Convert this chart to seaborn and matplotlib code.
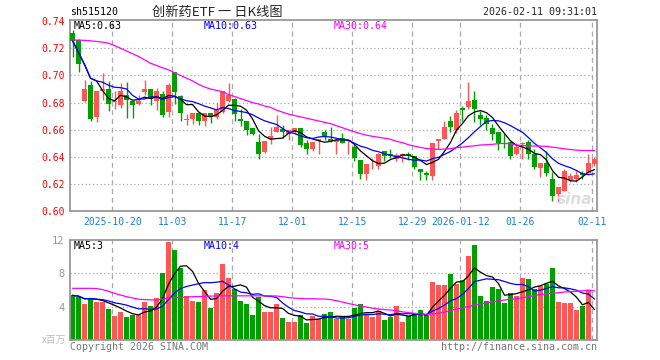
import numpy as np
import pandas as pd
import seaborn as sns
import matplotlib.pyplot as plt

# daily bars 2025-10-09 .. 2026-02-11
opens = [0.7315, 0.7261, 0.6810, 0.6932, 0.6695, 0.6883, 0.6902, 0.6805, 0.6785, 0.6859,
         0.6815, 0.6793, 0.6878, 0.6902, 0.6810, 0.6866, 0.6729, 0.7024, 0.6851, 0.6671,
         0.6676, 0.6720, 0.6663, 0.6720, 0.6693, 0.6729, 0.6810, 0.6829, 0.6676, 0.6663,
         0.6615, 0.6512, 0.6437, 0.6529, 0.6583, 0.6607, 0.6566, 0.6585, 0.6610, 0.6500,
         0.6461, 0.6517, 0.6583, 0.6529, 0.6512, 0.6537, 0.6517, 0.6473, 0.6376, 0.6273,
         0.6317, 0.6334, 0.6444, 0.6424, 0.6383, 0.6410, 0.6422, 0.6407, 0.6310, 0.6285,
         0.6261, 0.6517, 0.6534, 0.6663, 0.6595, 0.6758, 0.6768, 0.6822, 0.6712, 0.6688,
         0.6615, 0.6585, 0.6482, 0.6510, 0.6424, 0.6493, 0.6512, 0.6420, 0.6317, 0.6354,
         0.6241, 0.6127, 0.6151, 0.6229, 0.6237, 0.6285, 0.6280, 0.6346]
highs = [0.7334, 0.7265, 0.6968, 0.6961, 0.6883, 0.7017, 0.6956, 0.6883, 0.6941, 0.6949,
         0.6815, 0.6859, 0.6968, 0.6902, 0.6907, 0.6883, 0.6944, 0.7024, 0.6856, 0.6717,
         0.6725, 0.6729, 0.6724, 0.6724, 0.6798, 0.6885, 0.6944, 0.6834, 0.6754, 0.6663,
         0.6615, 0.6566, 0.6520, 0.6620, 0.6712, 0.6632, 0.6600, 0.6610, 0.6610, 0.6524,
         0.6510, 0.6532, 0.6602, 0.6620, 0.6527, 0.6578, 0.6527, 0.6493, 0.6378, 0.6349,
         0.6395, 0.6427, 0.6444, 0.6456, 0.6432, 0.6432, 0.6437, 0.6410, 0.6315, 0.6298,
         0.6505, 0.6529, 0.6663, 0.6700, 0.6749, 0.6778, 0.6949, 0.6883, 0.6737, 0.6712,
         0.6639, 0.6585, 0.6578, 0.6510, 0.6505, 0.6510, 0.6524, 0.6456, 0.6359, 0.6444,
         0.6290, 0.6176, 0.6310, 0.6285, 0.6298, 0.6298, 0.6420, 0.6402]
lows = [0.7132, 0.7022, 0.6805, 0.6663, 0.6656, 0.6822, 0.6737, 0.6754, 0.6759, 0.6688,
        0.6688, 0.6785, 0.6859, 0.6780, 0.6749, 0.6695, 0.6695, 0.6793, 0.6668, 0.6632,
        0.6644, 0.6632, 0.6627, 0.6651, 0.6676, 0.6724, 0.6805, 0.6668, 0.6627, 0.6559,
        0.6559, 0.6383, 0.6427, 0.6493, 0.6583, 0.6541, 0.6524, 0.6566, 0.6476, 0.6420,
        0.6444, 0.6420, 0.6524, 0.6510, 0.6420, 0.6500, 0.6420, 0.6371, 0.6241, 0.6232,
        0.6315, 0.6315, 0.6371, 0.6395, 0.6371, 0.6363, 0.6376, 0.6310, 0.6232, 0.6232,
        0.6232, 0.6456, 0.6534, 0.6585, 0.6578, 0.6663, 0.6754, 0.6656, 0.6632, 0.6602,
        0.6524, 0.6451, 0.6468, 0.6388, 0.6412, 0.6383, 0.6383, 0.6315, 0.6256, 0.6261,
        0.6078, 0.6066, 0.6151, 0.6212, 0.6212, 0.6237, 0.6280, 0.6334]
closes = [0.7256, 0.7083, 0.6902, 0.6676, 0.6883, 0.6902, 0.6793, 0.6810, 0.6883, 0.6822,
          0.6780, 0.6815, 0.6902, 0.6829, 0.6888, 0.6712, 0.6932, 0.6878, 0.6720, 0.6680,
          0.6720, 0.6663, 0.6724, 0.6695, 0.6744, 0.6883, 0.6859, 0.6717, 0.6666, 0.6595,
          0.6566, 0.6420, 0.6517, 0.6554, 0.6620, 0.6583, 0.6595, 0.6610, 0.6488, 0.6461,
          0.6510, 0.6529, 0.6554, 0.6517, 0.6524, 0.6505, 0.6524, 0.6395, 0.6273, 0.6346,
          0.6322, 0.6424, 0.6407, 0.6407, 0.6415, 0.6420, 0.6417, 0.6327, 0.6290, 0.6266,
          0.6500, 0.6529, 0.6620, 0.6620, 0.6720, 0.6744, 0.6815, 0.6754, 0.6676, 0.6639,
          0.6566, 0.6505, 0.6478, 0.6407, 0.6473, 0.6505, 0.6420, 0.6327, 0.6359, 0.6280,
          0.6110, 0.6176, 0.6298, 0.6261, 0.6266, 0.6266, 0.6354, 0.6388]
# volume in millions
volumes = [5.36, 5.16, 4.32, 5.04, 4.60, 4.60, 3.72, 2.88, 3.40, 2.76,
           3.04, 3.00, 4.56, 4.08, 5.04, 8.04, 11.76, 10.80, 8.64, 5.28,
           4.72, 4.56, 6.00, 3.88, 5.68, 9.12, 7.44, 6.12, 4.72, 4.32,
           3.00, 5.20, 3.40, 3.40, 4.32, 2.64, 2.20, 2.20, 2.96, 2.04,
           2.88, 2.48, 3.08, 3.36, 2.48, 2.72, 2.48, 3.88, 4.32, 3.00,
           2.72, 3.52, 2.40, 2.80, 4.08, 2.16, 2.88, 3.20, 3.60, 3.00,
           6.96, 6.60, 6.60, 7.92, 6.72, 7.20, 10.08, 11.40, 5.28, 4.68,
           6.36, 6.12, 4.44, 5.64, 5.28, 7.44, 7.32, 6.08, 6.48, 6.72,
           8.64, 4.56, 4.44, 4.44, 3.60, 4.08, 6.00, 0.12]
ma30 = [0.7261, 0.7260, 0.7258, 0.7255, 0.7250, 0.7245, 0.7237, 0.7220, 0.7200, 0.7180,
        0.7160, 0.7140, 0.7115, 0.7090, 0.7073, 0.7057, 0.7041, 0.7020, 0.7000, 0.6980,
        0.6960, 0.6935, 0.6915, 0.6900, 0.6890, 0.6880, 0.6860, 0.6845, 0.6830, 0.6815,
        0.6800, 0.6790, 0.6775, 0.6765, 0.6745, 0.6730, 0.6715, 0.6705, 0.6695, 0.6685,
        0.6675, 0.6665, 0.6655, 0.6645, 0.6630, 0.6615, 0.6600, 0.6585, 0.6572, 0.6560,
        0.6552, 0.6545, 0.6538, 0.6530, 0.6515, 0.6505, 0.6490, 0.6480, 0.6470, 0.6462,
        0.6458, 0.6456, 0.6458, 0.6462, 0.6468, 0.6472, 0.6478, 0.6482, 0.6488, 0.6490,
        0.6493, 0.6498, 0.6500, 0.6495, 0.6488, 0.6484, 0.6482, 0.6480, 0.6480, 0.6478,
        0.6472, 0.6466, 0.6460, 0.6455, 0.6450, 0.6448, 0.6447, 0.6447]
vol_ma30 = [6.20, 6.20, 6.20, 6.20, 6.18, 6.05, 5.85, 5.60, 5.40, 5.20,
            5.05, 4.90, 4.85, 4.82, 4.80, 4.90, 5.05, 5.10, 5.12, 5.15,
            5.20, 5.22, 5.25, 5.27, 5.28, 5.30, 5.30, 5.30, 5.30, 5.30,
            5.30, 5.30, 5.30, 5.30, 5.28, 5.20, 5.10, 5.02, 4.98, 4.95,
            4.95, 4.93, 4.92, 4.85, 4.72, 4.55, 4.38, 4.22, 4.08, 3.95,
            3.82, 3.72, 3.65, 3.60, 3.50, 3.38, 3.28, 3.20, 3.12, 3.10,
            3.12, 3.20, 3.35, 3.55, 3.72, 3.88, 4.02, 4.18, 4.32, 4.45,
            4.60, 4.70, 4.80, 4.88, 4.95, 5.08, 5.20, 5.32, 5.45, 5.52,
            5.60, 5.68, 5.76, 5.80, 5.85, 5.90, 6.00, 5.88]

tick_idx = [7, 17, 27, 37, 47, 57, 65, 75, 87]
tick_labels = ['2025-10-20', '11-03', '11-17', '12-01', '12-15', '12-29',
               '2026-01-12', '01-26', '02-11']
price_ticks = [0.60, 0.62, 0.64, 0.66, 0.68, 0.70, 0.72, 0.74]
vol_ticks = [4, 8, 12]

RED = '#ff5555'
GREEN = '#00a000'
GRID = '#aaaaaa'
MONO = 'DejaVu Sans Mono'

sns.set_style('white')
plt.rcParams['font.family'] = [MONO, 'Noto Sans CJK SC']

df = pd.DataFrame({'open': opens, 'high': highs, 'low': lows,
                   'close': closes, 'vol': volumes})
df['i'] = np.arange(len(df))
df['ma5'] = df['close'].rolling(5, min_periods=1).mean()
df['ma10'] = df['close'].rolling(10, min_periods=1).mean()
df['ma30'] = ma30
df['vma5'] = df['vol'].rolling(5, min_periods=1).mean()
df['vma10'] = df['vol'].rolling(10, min_periods=1).mean()
df['vma30'] = vol_ma30
up = df['close'] >= df['open']
colors = np.where(up, RED, GREEN)

W, H = 660, 360
fig = plt.figure(figsize=(6.6, 3.6), dpi=100)


def frac(x0, y0, x1, y1):
    return [x0 / W, 1 - y1 / H, (x1 - x0) / W, (y1 - y0) / H]


ax = fig.add_axes(frac(70, 20, 597, 211.3))
axv = fig.add_axes(frac(70, 240, 597, 340))

xlim = (-0.42, len(df) - 1 + 0.42)
grid_x = [t - 0.37 for t in tick_idx]

for a in (ax, axv):
    a.set_xlim(*xlim)
    for gx in grid_x:
        a.axvline(gx, color=GRID, lw=0.9, ls=(0, (4, 3)), zorder=0)
    for s in a.spines.values():
        s.set_color('#999999')
        s.set_linewidth(1.3)
    a.tick_params(length=0)

# price panel
ax.set_ylim(0.60, 0.7408)
for y in price_ticks[1:-1]:
    ax.axhline(y, color=GRID, lw=0.9, ls=(0, (1, 2)), zorder=0)
ax.vlines(df['i'], df['low'], df['high'], colors=colors, lw=1, zorder=2)
body_bottom = np.minimum(df['open'], df['close'])
body_h = np.maximum((df['close'] - df['open']).abs(), 0.0004)
ax.bar(df['i'], body_h, bottom=body_bottom, width=0.8, color=colors,
       linewidth=0, zorder=3)
sns.lineplot(data=df, x='i', y='ma5', ax=ax, color='black', lw=0.9, zorder=4)
sns.lineplot(data=df, x='i', y='ma10', ax=ax, color='#0000ff', lw=0.9, zorder=4)
sns.lineplot(data=df, x='i', y='ma30', ax=ax, color='#ff00ff', lw=0.9, zorder=4)
ax.set_yticks(price_ticks)
ax.set_yticklabels([f'{v:.2f}' for v in price_ticks], color='red', fontsize=7)
ax.set_xticks(grid_x)
ax.set_xticklabels(tick_labels, color='#1a7fd6', fontsize=7)
ax.tick_params(axis='y', pad=4)
ax.tick_params(axis='x', pad=4)
ax.set_xlabel('')
ax.set_ylabel('')

# volume panel
axv.set_ylim(0, 12)
for y in vol_ticks[:-1]:
    axv.axhline(y, color=GRID, lw=0.9, ls=(0, (1, 2)), zorder=0)
axv.bar(df['i'], df['vol'], width=0.86, color=colors, linewidth=0, zorder=2)
sns.lineplot(data=df, x='i', y='vma5', ax=axv, color='black', lw=0.9, zorder=4)
sns.lineplot(data=df, x='i', y='vma10', ax=axv, color='#0000ff', lw=0.9, zorder=4)
sns.lineplot(data=df, x='i', y='vma30', ax=axv, color='#ff00ff', lw=0.9, zorder=4)
axv.set_yticks(vol_ticks)
axv.set_yticklabels([str(v) for v in vol_ticks], color='#999999', fontsize=7.5)
axv.tick_params(axis='y', pad=4)
axv.set_xticks([])
axv.set_xlabel('')
axv.set_ylabel('')


def ftext(x, y, s, **kw):
    fig.text(x / W, 1 - y / H, s, va='center', **kw)


# header
ftext(70, 12, 'sh515120', fontsize=7.2, color='black')
ftext(217, 12, '创新药ETF 一 日K线图', fontsize=9.5, ha='center',
      family=['Noto Sans CJK SC', 'DejaVu Sans'])
ftext(597, 12, '2026-02-11 09:31:01', fontsize=7.2, ha='right')

# MA legends
ftext(74, 26, 'MA5:0.63', fontsize=7.2, color='black')
ftext(204, 26, 'MA10:0.63', fontsize=7.2, color='#0000ff')
ftext(334, 26, 'MA30:0.64', fontsize=7.2, color='#ff00ff')
ftext(74, 246, 'MA5:3', fontsize=7.2, color='black')
ftext(204, 246, 'MA10:4', fontsize=7.2, color='#0000ff')
ftext(334, 246, 'MA30:5', fontsize=7.2, color='#ff00ff')

# footer
ftext(66, 340, 'x百万', fontsize=7, color='#bbbbbb', ha='right',
      family=['Noto Sans CJK SC', 'DejaVu Sans'])
ftext(70, 347, 'Copyright 2026 SINA.COM', fontsize=7.2, color='#777777')
ftext(597, 347, 'http://finance.sina.com.cn', fontsize=7.2, color='#777777',
      ha='right')
ftext(575, 200, 'sina', fontsize=11, color='#dddddd', ha='center',
      style='italic', weight='bold', family='DejaVu Sans')

fig.savefig('out.png', dpi=100)
